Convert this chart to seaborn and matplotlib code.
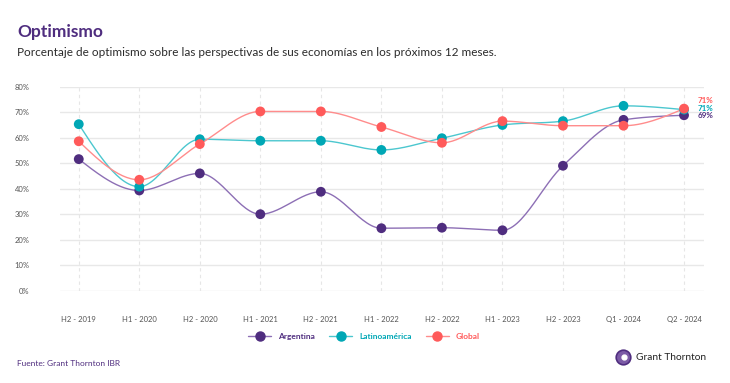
import numpy as np
import pandas as pd
import matplotlib
matplotlib.use("Agg")
import matplotlib.pyplot as plt
import seaborn as sns
from matplotlib.lines import Line2D

categories = ["H2 - 2019", "H1 - 2020", "H2 - 2020", "H1 - 2021", "H2 - 2021", "H1 - 2022",
              "H2 - 2022", "H1 - 2023", "H2 - 2023", "Q1 - 2024", "Q2 - 2024"]
argentina = [51.6, 39.3, 46.0, 30.0, 38.8, 24.5, 24.7, 23.7, 49.0, 67.0, 68.8]
latam = [65.3, 40.8, 59.4, 58.8, 58.8, 55.2, 59.8, 65.0, 66.5, 72.5, 71.0]
global_ = [58.6, 43.5, 57.5, 70.3, 70.3, 64.2, 58.0, 66.5, 64.7, 64.7, 71.4]
series_names = ["Argentina", "Latinoamérica", "Global"]
yticks = [0, 10, 20, 30, 40, 50, 60, 70, 80]

marker_colors = {"Argentina": "#4f2d7f", "Latinoamérica": "#00a7b5", "Global": "#ff5a5a"}
line_colors = {"Argentina": "#8d6fb5", "Latinoamérica": "#4cc7cf", "Global": "#ff8c8c"}

rows = []
for name, vals in zip(series_names, [argentina, latam, global_]):
    for i, (c, v) in enumerate(zip(categories, vals)):
        rows.append({"serie": name, "idx": i, "periodo": c, "valor": v})
df = pd.DataFrame(rows)


def monotone_x(x, y, n=30):
    x = np.asarray(x, float); y = np.asarray(y, float)
    h = np.diff(x); s = np.diff(y) / h
    m = np.zeros_like(y)
    for i in range(1, len(y) - 1):
        s0, s1 = s[i - 1], s[i]
        p = (s0 * h[i] + s1 * h[i - 1]) / (h[i - 1] + h[i])
        m[i] = (np.sign(s0) + np.sign(s1)) * min(abs(s0), abs(s1), 0.5 * abs(p))
    m[0] = (3 * s[0] - m[1]) / 2
    m[-1] = (3 * s[-1] - m[-2]) / 2
    xs, ys = [], []
    for i in range(len(x) - 1):
        t = np.linspace(0, 1, n)
        h00 = 2 * t**3 - 3 * t**2 + 1
        h10 = t**3 - 2 * t**2 + t
        h01 = -2 * t**3 + 3 * t**2
        h11 = t**3 - t**2
        xs.append(x[i] + t * h[i])
        ys.append(h00 * y[i] + h10 * h[i] * m[i] + h01 * y[i + 1] + h11 * h[i] * m[i + 1])
    return np.concatenate(xs), np.concatenate(ys)


sns.set_theme(style="white")
plt.rcParams["font.family"] = ["Lato", "DejaVu Sans"]

fig = plt.figure(figsize=(7.3, 3.83), dpi=100)
ax = fig.add_axes([60 / 730, 1 - 290.7 / 383, (704 - 60) / 730, (290.7 - 86.7) / 383])

for y in yticks:
    ax.axhline(y, color="#e8e8e8", lw=1.0, zorder=0)
for i in range(len(categories)):
    ax.axvline(i, color="#e6e6e6", lw=0.8, ls=(0, (3, 3)), zorder=0)

for name in series_names:
    sub = df[df.serie == name]
    xs, ys = monotone_x(sub.idx.values, sub.valor.values)
    ax.plot(xs, ys, color=line_colors[name], lw=1.0, zorder=2)

sns.scatterplot(data=df, x="idx", y="valor", hue="serie", palette=marker_colors,
                s=50, edgecolor="none", legend=False, ax=ax, zorder=3)

ax.set_xlim(-0.31, len(categories) - 1 + 0.33)
ax.set_ylim(0, 80)
ax.set_xticks(range(len(categories)))
ax.set_xticklabels(categories, fontsize=5.5, color="#555555")
ax.set_yticks(yticks)
ax.set_yticklabels([f"{v}%" for v in yticks], fontsize=5.5, color="#555555")
ax.tick_params(axis="both", length=0)
ax.tick_params(axis="x", pad=18)
ax.tick_params(axis="y", pad=22)
for sp in ax.spines.values():
    sp.set_visible(False)
ax.set_xlabel("")
ax.set_ylabel("")

# end labels
last = len(categories) - 1
label_y = {"Global": 74.4, "Latinoamérica": 71.6, "Argentina": 68.9}
for name, vals in zip(series_names, [argentina, latam, global_]):
    ax.annotate(f"{round(vals[-1])}%", xy=(last, label_y[name]), xytext=(9.5, 0),
                textcoords="offset points", fontsize=5.8, fontweight="bold",
                color=marker_colors[name], va="center", ha="left", annotation_clip=False)

# titles
fig.text(17 / 730, 1 - 32 / 383, "Optimismo", fontsize=12.5, fontweight="bold",
         color="#4f2d7f", va="center", ha="left")
fig.text(17 / 730, 1 - 53 / 383,
         "Porcentaje de optimismo sobre las perspectivas de sus economías en los próximos 12 meses.",
         fontsize=8.45, color="#2b2b2b", va="center", ha="left")

# legend
handles = [Line2D([0], [0], color=line_colors[n], lw=1.0, marker="o", markersize=6.5,
                  markerfacecolor=marker_colors[n], markeredgecolor=marker_colors[n])
           for n in series_names]
leg = fig.legend(handles, series_names, loc="center", bbox_to_anchor=(364 / 730, 1 - 336.5 / 383),
                 ncol=3, frameon=False, fontsize=6, handlelength=2.75, columnspacing=1.7,
                 handletextpad=0.85)
for t, n in zip(leg.get_texts(), series_names):
    t.set_color(marker_colors[n])
    t.set_fontweight("bold")

# source
fig.text(17 / 730, 1 - 364 / 383, "Fuente: Grant Thornton IBR", fontsize=6,
         color="#4f2d7f", va="center", ha="left")

# logo
lx, ly = 623 / 730, 1 - 357 / 383
fig.add_artist(Line2D([lx], [ly], marker="o", markersize=10.5, markerfacecolor="#7b5aa6",
                      markeredgecolor="#4f2d7f", markeredgewidth=1.2, transform=fig.transFigure))
fig.add_artist(Line2D([lx + 0.002], [ly], marker="o", markersize=3.5, markerfacecolor="white",
                      markeredgecolor="white", transform=fig.transFigure))
fig.text(636 / 730, ly, "Grant Thornton", fontsize=7.3, color="#222222", va="center", ha="left")

fig.savefig("out.png", dpi=100, facecolor="white")
